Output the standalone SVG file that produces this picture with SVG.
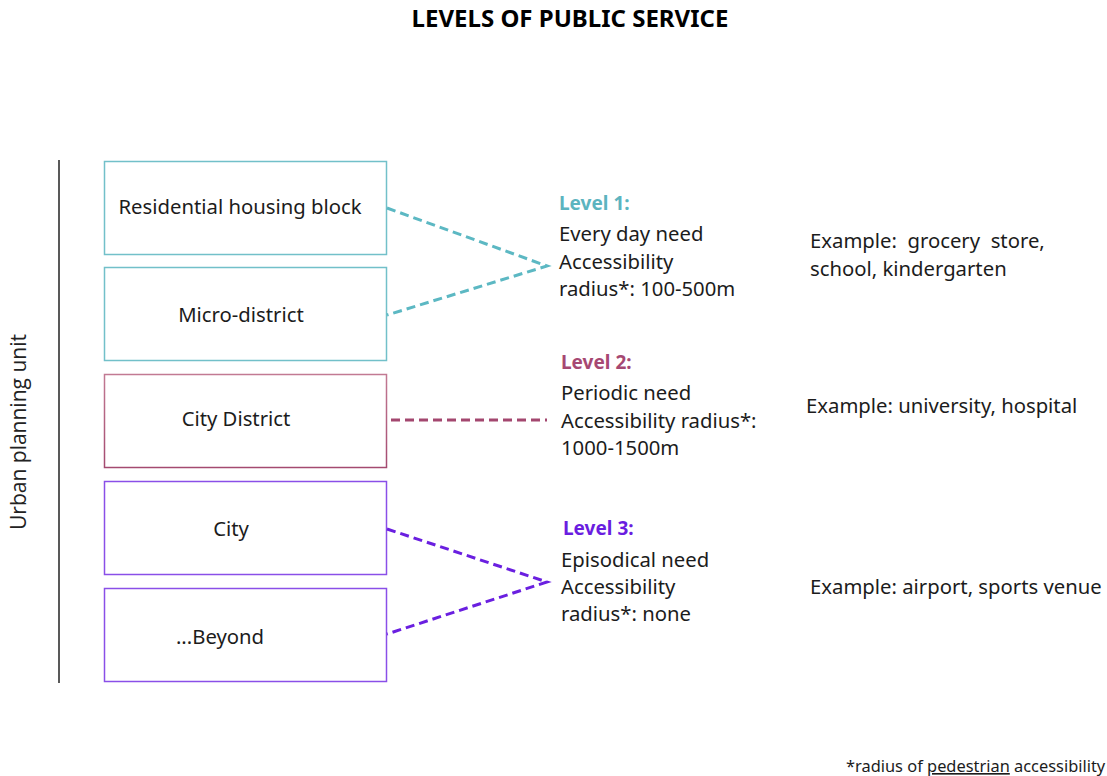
<svg xmlns="http://www.w3.org/2000/svg" width="1107" height="776" viewBox="0 0 1107 776">
  <style>
    .t { font-family: "Noto Sans", "Liberation Sans", sans-serif; font-size: 20.3px; fill: #1c1c1c; }
    .h { font-family: "Noto Sans", "Liberation Sans", sans-serif; font-size: 19px; font-weight: bold; }
    .box { fill: #ffffff; stroke-width: 1.5; }
    .dash { fill: none; stroke-width: 3; stroke-dasharray: 9 5; }
  </style>
  <defs>
    <linearGradient id="gDistrict" x1="0" y1="0" x2="0" y2="1">
      <stop offset="0" stop-color="#c27a93"/>
      <stop offset="1" stop-color="#a44a70"/>
    </linearGradient>
  </defs>
  <rect width="1107" height="776" fill="#ffffff"/>

  <text x="570" y="27" text-anchor="middle" class="t" style="font-weight:bold;font-size:24px;fill:#000">LEVELS OF PUBLIC SERVICE</text>

  <!-- axis -->
  <g id="axis">
    <line x1="59" y1="160" x2="59" y2="683" stroke="#222" stroke-width="1.5"/>
    <text transform="translate(26,432) rotate(-90)" text-anchor="middle" class="t" style="font-family:'Open Sans',sans-serif;font-size:21px;fill:#222">Urban planning unit</text>
  </g>

  <!-- planning units -->
  <g id="node-block">
    <rect x="104.5" y="161.5" width="282" height="93" class="box" stroke="#72c0c9"/>
    <text x="240" y="214" text-anchor="middle" class="t">Residential housing block</text>
  </g>
  <g id="node-microdistrict">
    <rect x="104.5" y="267.5" width="282" height="93" class="box" stroke="#72c0c9"/>
    <text x="241" y="322" text-anchor="middle" class="t">Micro-district</text>
  </g>
  <g id="node-district">
    <rect x="104.5" y="374.5" width="282" height="93" class="box" stroke="url(#gDistrict)"/>
    <text x="236" y="426" text-anchor="middle" class="t">City District</text>
  </g>
  <g id="node-city">
    <rect x="104.5" y="481.5" width="282" height="93" class="box" stroke="#8a4fe8"/>
    <text x="231" y="536" text-anchor="middle" class="t">City</text>
  </g>
  <g id="node-beyond">
    <rect x="104.5" y="588.5" width="282" height="93" class="box" stroke="#8a4fe8"/>
    <text x="220" y="644" text-anchor="middle" class="t">...Beyond</text>
  </g>

  <!-- connectors -->
  <g id="connectors">
    <polyline points="387,208 547,266 387,315" class="dash" stroke="#5cb8c3"/>
    <line x1="391" y1="420" x2="547" y2="420" class="dash" stroke="#a3476f"/>
    <polyline points="387,529 547,582 387,634" class="dash" stroke="#6a1fe0"/>
  </g>

  <!-- levels -->
  <g id="level-1">
    <text x="559" y="210" class="h" fill="#5cb4bf">Level 1:</text>
    <text x="559" y="241" class="t">Every day need</text>
    <text x="559" y="269" class="t">Accessibility</text>
    <text x="559" y="296" class="t">radius*: 100-500m</text>
  </g>
  <g id="level-2">
    <text x="561" y="369" class="h" fill="#a64872">Level 2:</text>
    <text x="561" y="400" class="t">Periodic need</text>
    <text x="561" y="428" class="t">Accessibility radius*:</text>
    <text x="561" y="455" class="t">1000-1500m</text>
  </g>
  <g id="level-3">
    <text x="563" y="535" class="h" fill="#6a1de0">Level 3:</text>
    <text x="561" y="567" class="t">Episodical need</text>
    <text x="561" y="594" class="t">Accessibility</text>
    <text x="561" y="621" class="t">radius*: none</text>
  </g>

  <!-- examples -->
  <g id="examples">
    <text x="810" y="248" class="t" xml:space="preserve">Example:  grocery  store,</text>
    <text x="810" y="276" class="t">school, kindergarten</text>
    <text x="806" y="413" class="t">Example: university, hospital</text>
    <text x="810" y="594" class="t">Example: airport, sports venue</text>
  </g>

  <text x="846" y="772" class="t" style="font-size:16.4px">*radius of <tspan text-decoration="underline">pedestrian</tspan> accessibility</text>
</svg>
